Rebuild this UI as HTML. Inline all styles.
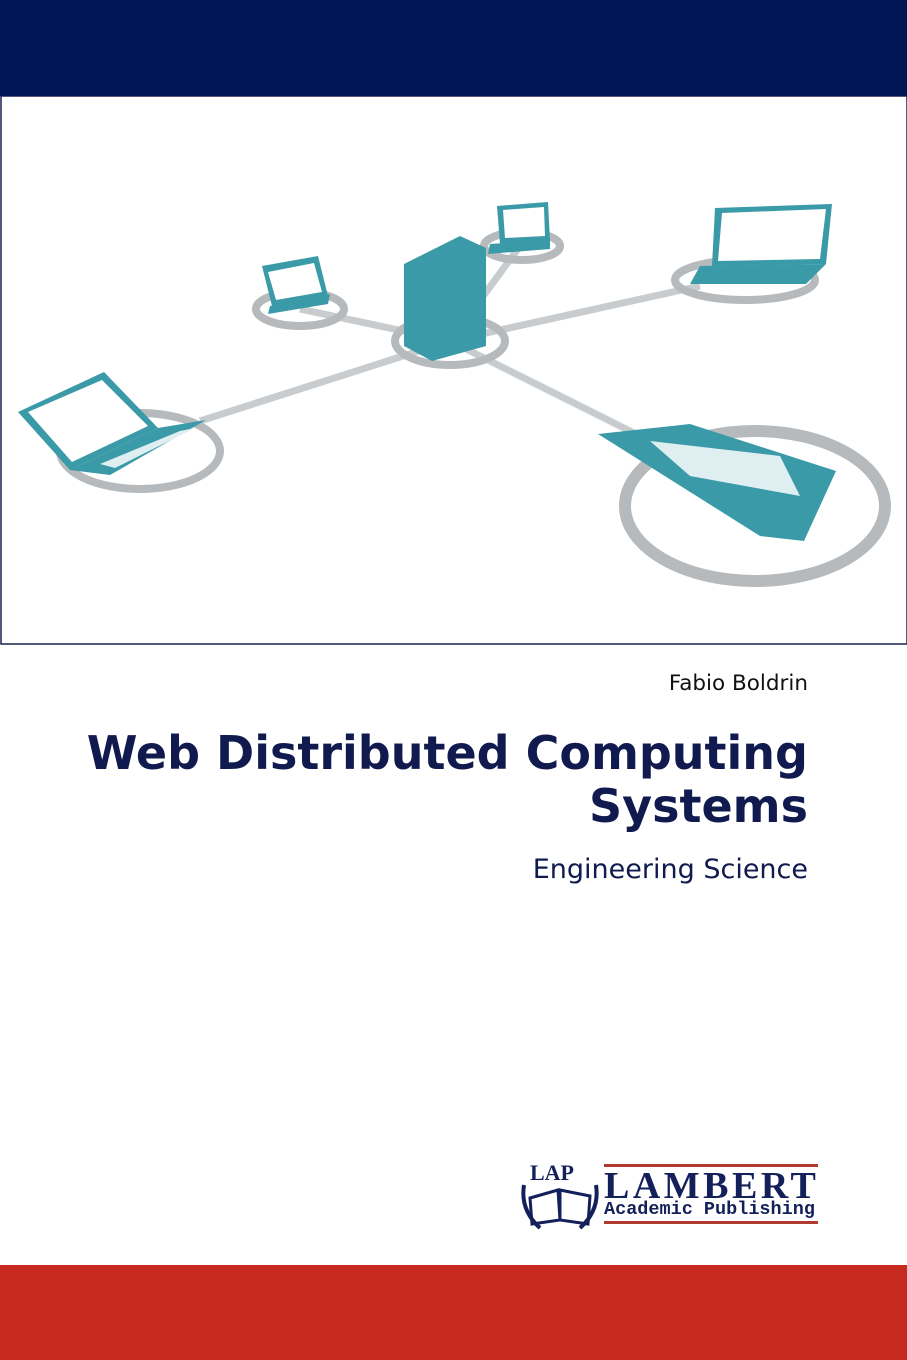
<!DOCTYPE html>
<html><head><meta charset="utf-8"><style>
body{margin:0;width:907px;height:1360px;position:relative;background:#fff;overflow:hidden;font-family:"DejaVu Sans","Liberation Sans",sans-serif}
.t{position:absolute;right:99px;text-align:right;color:#101a4e;white-space:nowrap}
</style></head><body>
<div style="position:absolute;left:0;top:0;width:907px;height:96px;background:#001655"></div>
<svg style="position:absolute;left:0;top:96px" width="907" height="550">
<rect x="1" y="0" width="906" height="548" fill="#fff" stroke="#1a2050" stroke-width="1.5"/>
<g stroke="#c8ccce" stroke-width="7" fill="none">
<line x1="450" y1="245" x2="300" y2="213"/><line x1="450" y1="245" x2="520" y2="150"/>
<line x1="450" y1="245" x2="700" y2="190"/><line x1="450" y1="245" x2="200" y2="325"/>
<line x1="450" y1="245" x2="650" y2="345"/>
</g>
<g fill="none" stroke="#b6babc" stroke-width="8">
<ellipse cx="450" cy="245" rx="55" ry="24"/>
<ellipse cx="300" cy="213" rx="44" ry="17"/>
<ellipse cx="522" cy="150" rx="38" ry="14"/>
<ellipse cx="745" cy="184" rx="70" ry="20"/>
<ellipse cx="140" cy="355" rx="80" ry="38"/>
<ellipse cx="755" cy="410" rx="130" ry="75" stroke-width="12"/>
</g>
<g fill="#3a9aa8">
<polygon points="404,168 460,140 486,152 486,250 432,265 404,250"/>
<polygon points="262,170 318,160 328,200 272,210" />
<polygon points="270,210 330,198 328,208 268,218"/>
<polygon points="497,110 548,106 550,145 500,148"/>
<polygon points="490,148 550,144 550,153 488,158"/>
<polygon points="715,112 832,108 826,168 712,170"/>
<polygon points="700,170 826,168 806,188 690,188"/>
<polygon points="18,316 104,276 158,332 70,374"/>
<polygon points="70,374 158,332 206,324 110,379"/>
<polygon points="598,338 690,328 836,375 804,445 760,440"/>
</g>
<g fill="#fff">
<polygon points="268,176 314,167 322,196 276,204"/>
<polygon points="503,114 544,111 545,140 505,142"/>
<polygon points="722,117 826,113 820,163 718,165"/>
<polygon points="28,316 102,284 148,330 72,366"/>
</g>
<g fill="#dfeff1">
<polygon points="650,345 780,360 800,400 690,380"/>
<polygon points="100,368 180,335 195,332 115,372"/>
</g>
</svg>
<div class="t" style="top:671px;font-size:21.5px;color:#111">Fabio Boldrin</div>
<div class="t" style="top:727px;font-size:46px;font-weight:bold;line-height:53px">Web Distributed Computing<br>Systems</div>
<div class="t" style="top:854px;font-size:27px;color:#101a4e">Engineering Science</div>
<div style="position:absolute;left:604px;top:1164px;width:214px;height:3px;background:#b03a30"></div>
<div style="position:absolute;left:604px;top:1221px;width:214px;height:3px;background:#b03a30"></div>
<div style="position:absolute;left:604px;top:1166px;width:214px;font-family:'Liberation Serif',serif;font-weight:bold;font-size:38px;letter-spacing:3.5px;color:#14205a;line-height:40px">LAMBERT</div>
<div style="position:absolute;left:604px;top:1199px;font-family:'Liberation Mono',monospace;font-weight:bold;font-size:18.5px;color:#14205a">Academic Publishing</div>
<div style="position:absolute;left:530px;top:1160px;font-family:'Liberation Serif',serif;font-weight:bold;font-size:22px;color:#14205a">LAP</div>
<svg style="position:absolute;left:520px;top:1180px" width="80" height="50"><path d="M10,18 L38,10 L40,40 L12,44Z M40,10 L70,16 L68,44 L40,40Z" fill="#fff" stroke="#14205a" stroke-width="3"/><path d="M4,5 Q0,30 20,48 M76,5 Q80,30 60,48" stroke="#14205a" stroke-width="4" fill="none"/></svg>
<div style="position:absolute;left:0;top:1265px;width:907px;height:95px;background:#c62a1e"></div>
</body></html>
